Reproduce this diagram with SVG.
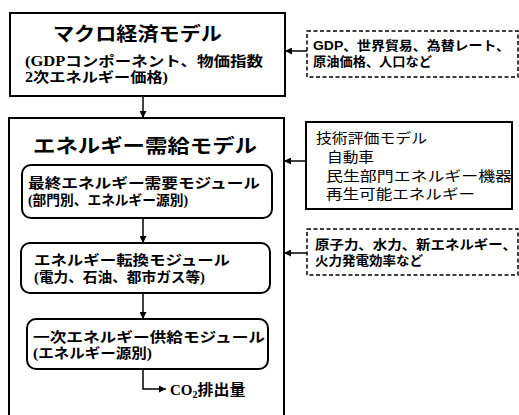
<svg xmlns="http://www.w3.org/2000/svg" width="519" height="415" viewBox="0 0 519 415">
<defs>
<style>
.box{fill:#fff;stroke:#000;stroke-width:2}
.dbox{fill:#fff;stroke:#000;stroke-width:1.5;stroke-dasharray:4 2.5}
.mod{fill:#fff;stroke:#000;stroke-width:2}
.conn{fill:none;stroke:#000;stroke-width:1.5}
.jt{font-family:"Liberation Serif","Noto Sans CJK JP",serif;font-weight:bold;fill:#000}
.st{font-family:"Liberation Sans","Noto Sans CJK JP",sans-serif;fill:#000}
.b{font-weight:bold}
</style>
<marker id="ah" viewBox="0 0 10 10" refX="10" refY="5" markerWidth="8" markerHeight="7" markerUnits="userSpaceOnUse" orient="auto">
<path d="M0,0 L10,5 L0,10 z" fill="#000"/>
</marker>
</defs>
<rect width="519" height="415" fill="#fff"/>

<g id="macro">
<rect class="box" x="10" y="13" width="275" height="83"/>
<text class="jt" x="53" y="41" font-size="19" textLength="169" lengthAdjust="spacingAndGlyphs">マクロ経済モデル</text>
<text class="jt" x="25" y="66" font-size="14" textLength="238" lengthAdjust="spacingAndGlyphs">(GDPコンポーネント、物価指数</text>
<text class="jt" x="25" y="82" font-size="14" textLength="143" lengthAdjust="spacingAndGlyphs">2次エネルギー価格)</text>
</g>

<g id="energy">
<rect class="box" x="9" y="118" width="275" height="310"/>
<text class="jt" x="33" y="153" font-size="19" textLength="224" lengthAdjust="spacingAndGlyphs">エネルギー需給モデル</text>
</g>

<g id="final-demand">
<rect class="mod" x="22" y="165" width="250" height="53" rx="9"/>
<text class="jt" x="28" y="188" font-size="14" textLength="232" lengthAdjust="spacingAndGlyphs">最終エネルギー需要モジュール</text>
<text class="jt" x="28" y="205" font-size="14" textLength="160" lengthAdjust="spacingAndGlyphs">(部門別、エネルギー源別)</text>
</g>

<g id="conversion">
<rect class="mod" x="21" y="243" width="249" height="50" rx="9"/>
<text class="jt" x="34" y="265" font-size="14" textLength="196" lengthAdjust="spacingAndGlyphs">エネルギー転換モジュール</text>
<text class="jt" x="34" y="282" font-size="14" textLength="171" lengthAdjust="spacingAndGlyphs">(電力、石油、都市ガス等)</text>
</g>

<g id="primary">
<rect class="mod" x="27" y="319" width="241" height="50" rx="9"/>
<text class="jt" x="33" y="342" font-size="14" textLength="232" lengthAdjust="spacingAndGlyphs">一次エネルギー供給モジュール</text>
<text class="jt" x="33" y="358" font-size="14" textLength="119" lengthAdjust="spacingAndGlyphs">(エネルギー源別)</text>
</g>

<g id="co2">
<text class="jt" x="170" y="395" font-size="15">CO<tspan font-size="10" dy="3">2</tspan><tspan dy="-3" textLength="48" lengthAdjust="spacingAndGlyphs">排出量</tspan></text>
</g>

<g id="exo">
<rect class="dbox" x="307" y="31" width="211" height="46"/>
<text class="st b" x="313" y="50" font-size="13" textLength="197" lengthAdjust="spacingAndGlyphs">GDP、世界貿易、為替レート、</text>
<text class="st b" x="313" y="66" font-size="13" textLength="119" lengthAdjust="spacingAndGlyphs">原油価格、人口など</text>
</g>

<g id="tech">
<rect class="box" x="306" y="122" width="206" height="87"/>
<text class="st" x="316" y="143" font-size="14" textLength="111" lengthAdjust="spacingAndGlyphs">技術評価モデル</text>
<text class="st" x="327" y="162" font-size="14" textLength="47" lengthAdjust="spacingAndGlyphs">自動車</text>
<text class="st" x="326" y="181" font-size="14" textLength="186" lengthAdjust="spacingAndGlyphs">民生部門エネルギー機器</text>
<text class="st" x="326" y="199" font-size="14" textLength="149" lengthAdjust="spacingAndGlyphs">再生可能エネルギー</text>
</g>

<g id="supply">
<rect class="dbox" x="307" y="229" width="211" height="46"/>
<text class="st b" x="315" y="249" font-size="13" textLength="202" lengthAdjust="spacingAndGlyphs">原子力、水力、新エネルギー、</text>
<text class="st b" x="315" y="265" font-size="13" textLength="108" lengthAdjust="spacingAndGlyphs">火力発電効率など</text>
</g>

<g id="connectors">
<line class="conn" x1="143" y1="96" x2="143" y2="118" marker-end="url(#ah)"/>
<line class="conn" x1="143" y1="218" x2="143" y2="243" marker-end="url(#ah)"/>
<line class="conn" x1="143" y1="293" x2="143" y2="319" marker-end="url(#ah)"/>
<polyline class="conn" points="143,369 143,389 166,389" marker-end="url(#ah)"/>
<line class="conn" x1="307" y1="51" x2="285" y2="51" marker-end="url(#ah)"/>
<line class="conn" x1="306" y1="161" x2="284" y2="161" marker-end="url(#ah)"/>
<line class="conn" x1="307" y1="253" x2="284" y2="253" marker-end="url(#ah)"/>
</g>
</svg>
